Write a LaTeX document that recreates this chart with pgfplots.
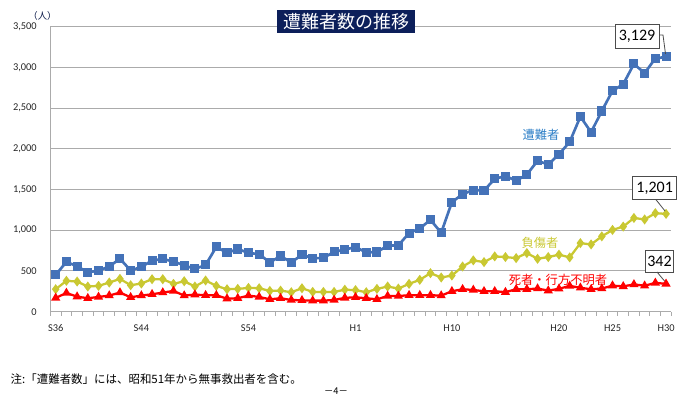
\documentclass[border=0pt]{standalone}
\usepackage{fontspec}
\setmainfont{Carlito}
\newfontfamily\jp{Noto Sans CJK JP}
\usepackage{pgfplots}
\pgfplotsset{compat=1.18}
\usepackage{pgfplotstable}

\definecolor{sblue}{HTML}{4472B8}
\definecolor{syellow}{HTML}{C9C832}
\definecolor{sred}{HTML}{FF0000}
\definecolor{gridgray}{HTML}{ABABAB}
\definecolor{navy}{HTML}{0C1F5A}
\definecolor{lblblue}{HTML}{2A7DC6}
\definecolor{labelc}{HTML}{262626}

\pgfplotstableread{
i blue yellow red
0 452 276 169
1 612 379 230
2 558 370 185
3 483 309 165
4 505 317 181
5 554 358 198
6 651 403 235
7 505 325 177
8 550 346 198
9 628 399 214
10 648 399 235
11 615 342 255
12 570 374 198
13 525 309 210
14 574 383 202
15 796 317 202
16 722 276 160
17 770 280 165
18 722 292 198
19 706 288 181
20 605 255 152
21 684 259 165
22 605 239 144
23 700 288 140
24 656 243 136
25 660 243 136
26 735 243 144
27 763 270 170
28 793 265 177
29 729 239 165
30 733 280 152
31 811 309 193
32 815 284 193
33 965 342 202
34 1022 391 202
35 1129 473 202
36 969 420 198
37 1345 444 251
38 1444 555 276
39 1494 630 267
40 1488 609 251
41 1631 679 251
42 1666 671 240
43 1609 658 276
44 1684 720 276
45 1853 650 284
46 1808 671 259
47 1933 700 281
48 2085 667 317
49 2396 842 294
50 2204 826 275
51 2465 925 284
52 2713 1004 320
53 2794 1045 311
54 3043 1151 335
55 2929 1133 319
56 3111 1210 354
57 3129 1201 342
}\datatable

\begin{document}
\begin{tikzpicture}
\useasboundingbox (0,0) rectangle (521.25pt,297pt);
\begin{axis}[
  at={(37.76pt,63.23pt)}, anchor=south west,
  scale only axis, width=465.79pt, height=213.75pt,
  xmin=-0.5, xmax=57.5, ymin=0, ymax=3500,
  axis lines*=left,
  axis line style={gridgray, line width=0.75pt},
  ytick={0,500,...,3500},
  ymajorgrids, grid style={gridgray, line width=0.75pt},
  xtick={0,8,18,28,37,47,52,57},
  xticklabels={S36,S44,S54,H1,H10,H20,H25,H30},
  minor xtick={-0.5,0.5,...,57.5},
  tick align=outside,
  major tick length=0pt,
  minor tick length=3pt,
  minor tick style={gridgray, line width=0.75pt},
  tick label style={font=\fontsize{7.8}{9}\selectfont, text=labelc},
  /pgf/number format/assume math mode=true,
  /pgf/number format/1000 sep={,},
  yticklabel style={xshift=-6.7pt},
  xticklabel style={yshift=-6pt},
  clip=false,
]
\addplot[sblue, line width=2pt, mark=square*, mark size=2.4pt, mark options={solid}] table[x=i,y=blue]{\datatable};
\addplot[syellow, line width=1.7pt, mark=diamond*, mark size=2.4pt, mark options={solid}] table[x=i,y=yellow]{\datatable};
\addplot[sred, line width=1.7pt, mark=triangle*, mark size=2.3pt, mark options={solid}] table[x=i,y=red]{\datatable};
\end{axis}
\begin{scope}[x=0.75pt, y=-0.75pt, yshift=297pt]
\node[fill=navy, text=white, font=\jp\fontsize{13.5}{14}\selectfont, minimum width=104pt, minimum height=17.5pt, inner sep=0pt] at (346,21.5) {遭難者数の推移};
\node[text=navy!80!black, font=\jp\fontsize{7}{8}\selectfont] at (42.5,16) {（人）};
\node[text=lblblue, font=\jp\fontsize{9.2}{10}\selectfont] at (541,135) {遭難者};
\node[text=syellow, font=\jp\fontsize{9.2}{10}\selectfont] at (540,243) {負傷者};
\node[text=sred, font=\jp\fontsize{9.2}{10}\selectfont] at (558,280) {死者・行方不明者};
\node[draw=black!70, fill=white, line width=0.6pt, font=\fontsize{12}{14}\selectfont, minimum width=33pt, minimum height=18pt, inner sep=0pt] at (637,36.5) {3,129};
\draw[black!70, line width=0.6pt] (659,35) -- (663,35) -- (665.5,54);
\node[draw=black!70, fill=white, line width=0.6pt, font=\fontsize{12}{14}\selectfont, minimum width=33pt, minimum height=17.5pt, inner sep=0pt] at (654.7,188) {1,201};
\draw[black!70, line width=0.6pt] (656,199.7) -- (665,211);
\node[draw=black!70, fill=white, line width=0.6pt, font=\fontsize{12}{14}\selectfont, minimum width=21pt, minimum height=16.5pt, inner sep=0pt] at (659.5,261) {342};
\draw[black!70, line width=0.6pt] (657,272) -- (664.5,281);
\node[anchor=west, font=\jp\fontsize{8.6}{10}\selectfont] at (6,379) {注:「遭難者数」には、昭和51年から無事救出者を含む。};
\node[font=\jp\fontsize{7}{8}\selectfont, inner sep=0pt] at (336,391) {－4－};
\end{scope}
\end{tikzpicture}
\end{document}
